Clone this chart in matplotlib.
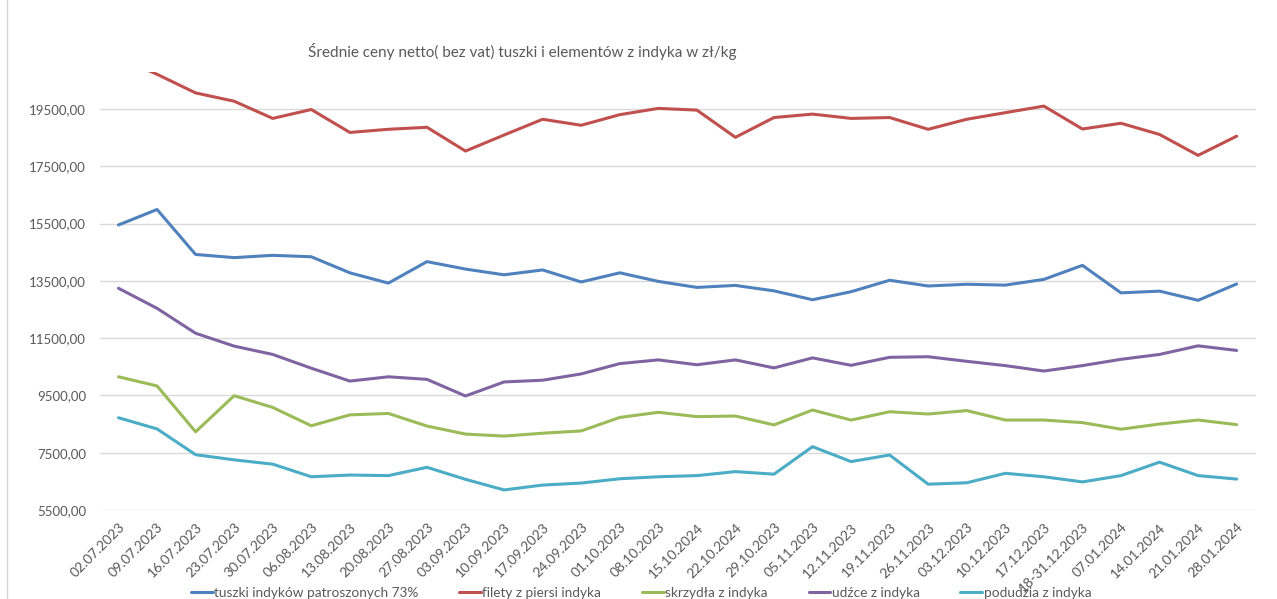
import matplotlib
matplotlib.use("Agg")
import matplotlib.pyplot as plt
from matplotlib.ticker import FuncFormatter
from matplotlib.lines import Line2D

# Daty notowań
daty = [
    "02.07.2023", "09.07.2023", "16.07.2023", "23.07.2023", "30.07.2023",
    "06.08.2023", "13.08.2023", "20.08.2023", "27.08.2023", "03.09.2023",
    "10.09.2023", "17.09.2023", "24.09.2023", "01.10.2023", "08.10.2023",
    "15.10.2024", "22.10.2024", "29.10.2023", "05.11.2023", "12.11.2023",
    "19.11.2023", "26.11.2023", "03.12.2023", "10.12.2023", "17.12.2023",
    "18-31.12.2023", "07.01.2024", "14.01.2024", "21.01.2024", "28.01.2024",
]

# Ceny poszczególnych elementów
tuszki = [
    15450, 15990, 14420, 14310, 14390, 14340, 13780, 13420, 14170, 13910,
    13710, 13880, 13460, 13780, 13480, 13270, 13340, 13150, 12840, 13120,
    13520, 13320, 13380, 13350, 13550, 14040, 13080, 13140, 12820, 13390,
]
filety = [
    21300, 20710, 20060, 19770, 19170, 19480, 18680, 18790, 18860, 18030,
    18590, 19140, 18930, 19300, 19520, 19460, 18510, 19200, 19320, 19170,
    19200, 18790, 19140, 19370, 19600, 18800, 19000, 18610, 17880, 18550,
]
skrzydla = [
    10150, 9830, 8230, 9490, 9080, 8440, 8820, 8870, 8430, 8150,
    8080, 8180, 8260, 8730, 8910, 8760, 8780, 8470, 8990, 8640,
    8930, 8850, 8970, 8640, 8640, 8550, 8320, 8500, 8640, 8480,
]
udzce = [
    13240, 12540, 11670, 11220, 10930, 10450, 10000, 10150, 10060, 9480,
    9970, 10030, 10250, 10610, 10740, 10570, 10740, 10460, 10810, 10550,
    10830, 10850, 10690, 10540, 10350, 10540, 10760, 10930, 11230, 11070,
]
podudzia = [
    8720, 8330, 7430, 7250, 7100, 6660, 6720, 6700, 6990, 6570,
    6200, 6370, 6440, 6590, 6660, 6700, 6840, 6750, 7710, 7190,
    7420, 6400, 6450, 6780, 6660, 6480, 6700, 7170, 6700, 6580,
]

serie = [
    ("tuszki indyków patroszonych 73%", tuszki, "#4F81BD"),
    ("filety z piersi indyka", filety, "#C0504D"),
    ("skrzydła z indyka", skrzydla, "#9BBB59"),
    ("udźce z indyka", udzce, "#8064A2"),
    ("podudzia z indyka", podudzia, "#4BACC6"),
]

plt.rcParams["font.family"] = ["Lato", "DejaVu Sans"]
szary = "#595959"

fig = plt.figure(figsize=(12.77, 5.99), dpi=100)
ax = fig.add_axes([0.0783, 0.1486, 0.9052, 0.7312])

x = list(range(len(daty)))
for nazwa, wartosci, kolor in serie:
    ax.plot(x, wartosci, color=kolor, linewidth=2.2, label=nazwa,
            solid_capstyle="round", solid_joinstyle="round")

# Osie i siatka
ax.set_xlim(-0.48, len(daty) - 0.5)
ax.set_ylim(5500, 20790)
ax.set_yticks(range(5500, 20000, 2000))
ax.yaxis.set_major_formatter(FuncFormatter(lambda v, p: f"{v:.2f}".replace(".", ",")))
ax.grid(axis="y", color="#D9D9D9", linewidth=1)
ax.set_axisbelow(True)
for s in ax.spines.values():
    s.set_visible(False)
ax.tick_params(axis="both", length=0, colors=szary, labelsize=9.5)
ax.tick_params(axis="y", pad=10)
ax.tick_params(axis="x", pad=8, labelsize=10)
ax.set_xticks(x)
ax.set_xticklabels(daty, rotation=45, ha="right", rotation_mode="anchor")

# Tytuł
fig.text(0.409, 1 - 52 / 599, "Średnie ceny netto( bez vat) tuszki i elementów z indyka w zł/kg",
         ha="center", va="center", fontsize=11, color=szary)

# Legenda
fig.legend(loc="center", bbox_to_anchor=(0.502, 1 - 593 / 599), ncol=5, frameon=False,
           fontsize=9.8, labelcolor=szary, handlelength=1.6, handletextpad=0.1,
           columnspacing=3.0)

# Ramka po lewej
fig.add_artist(Line2D([7 / 1277, 7 / 1277], [0, 1], color="#D9D9D9", linewidth=1))

plt.savefig("out.png", dpi=100)
